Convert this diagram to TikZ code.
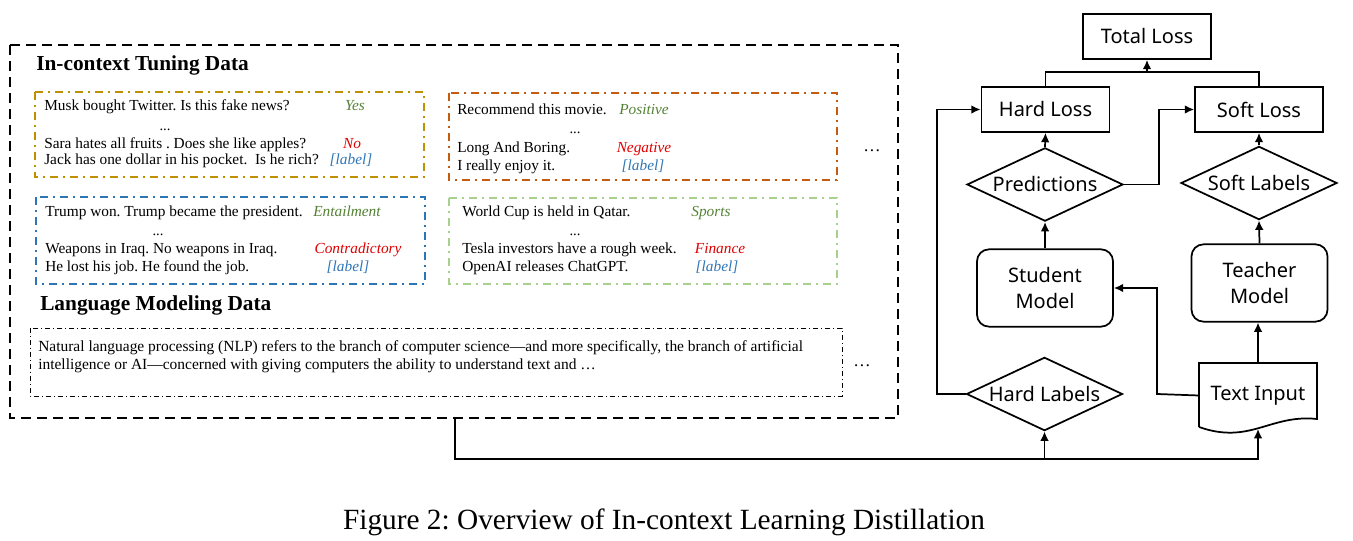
\documentclass[tikz,border=0pt]{standalone}
\usepackage{fontspec}
\setmainfont{Liberation Serif}
\newfontfamily\flowfont{Noto Sans}
\usetikzlibrary{shapes.geometric,arrows.meta}
\definecolor{cyel}{HTML}{BF9000}
\definecolor{cora}{HTML}{C55A11}
\definecolor{cblu}{HTML}{2E75B6}
\definecolor{cgrn}{HTML}{A9D18E}
\definecolor{lgrn}{HTML}{548235}
\definecolor{lred}{HTML}{E00000}
\definecolor{lblu}{HTML}{2E75B6}
\frenchspacing
\begin{document}
\begin{tikzpicture}[x=0.75pt,y=-0.75pt,
  txt/.style={anchor=base west, inner sep=0pt, font=\fontsize{11.5}{14}\selectfont},
  dotsn/.style={anchor=base, inner sep=0pt, font=\fontsize{11}{13}\selectfont},
  lab/.style={anchor=base, inner sep=0pt, font=\fontsize{11.5}{14}\selectfont\itshape},
  head/.style={anchor=base west, inner sep=0pt, font=\fontsize{16}{19}\selectfont\bfseries},
  ddash/.style={line width=1.5pt, dash pattern=on 6pt off 3.5pt on 2pt off 3.5pt},
  outerdash/.style={line width=1.2pt, dash pattern=on 7.5pt off 4.5pt},
  lmdash/.style={line width=0.7pt, dash pattern=on 4pt off 2pt on 1pt off 2pt},
  ffont/.style={font=\flowfont\fontsize{15}{19.5}\selectfont},
  lossbox/.style={draw, line width=1.3pt, ffont, inner sep=0pt, minimum width=96pt, minimum height=33.75pt},
  dia/.style={draw, diamond, aspect=2.1, line width=1.3pt, ffont, inner sep=0pt, minimum width=117pt, minimum height=55pt},
  model/.style={draw, rounded corners=9pt, line width=1.3pt, ffont, align=center, inner sep=0pt, minimum width=102pt, minimum height=58pt},
  conn/.style={line width=1.3pt},
  arr/.style={line width=1.3pt, -{Latex[length=7pt,width=6.5pt]}}
]
\useasboundingbox (0,0) rectangle (1353,541);

% outer dashed frame
\draw[outerdash] (10,45) rectangle (898,418);
\node[head] (h1) at (36,71) {In-context Tuning Data};
\node[head] (h2) at (40,311) {Language Modeling Data};

% yellow box
\draw[ddash, cyel] (35,92) rectangle (424,177);
\node[txt] (y1) at (44,111) {Musk bought Twitter. Is this fake news?};
\node[dotsn] (y2) at (165,131) {...};
\node[txt] (y3) at (44,149) {Sara hates all fruits . Does she like apples?};
\node[txt] (y4) at (44,165) {Jack has one dollar in his pocket.\ \ Is he rich?};
\node[lab, lgrn] (yl1) at (355,111) {Yes};
\node[lab, lred] (yl2) at (352,149) {No};
\node[lab, lblu] (yl3) at (351,165) {[label]};

% orange box
\draw[ddash, cora] (449,93) rectangle (837,180);
\node[txt] (o1) at (457,115) {Recommend this movie.};
\node[dotsn] (o2) at (575,134) {...};
\node[txt] (o3) at (457,153) {Long And Boring.};
\node[txt] (o4) at (457,171) {I really enjoy it.};
\node[lab, lgrn] (ol1) at (644,115) {Positive};
\node[lab, lred] (ol2) at (644,153) {Negative};
\node[lab, lblu] (ol3) at (643,171) {[label]};

% blue box
\draw[ddash, cblu] (36,197) rectangle (425,284);
\node[txt] (b1t) at (45,217) {Trump won. Trump became the president.};
\node[dotsn] (b2t) at (158,236) {...};
\node[txt] (b3t) at (45,254) {Weapons in Iraq. No weapons in Iraq.};
\node[txt] (b4t) at (45,272) {He lost his job. He found the job.};
\node[lab, lgrn] (bl1) at (347,217) {Entailment};
\node[lab, lred] (bl2) at (358,254) {Contradictory};
\node[lab, lblu] (bl3) at (348,272) {[label]};

% green box
\draw[ddash, cgrn] (449,198) rectangle (837,284);
\node[txt] (g1) at (462,217) {World Cup is held in Qatar.};
\node[dotsn] (g2) at (575,236) {...};
\node[txt] (g3) at (462,254) {Tesla investors have a rough week.};
\node[txt] (g4) at (462,272) {OpenAI releases ChatGPT.};
\node[lab, lgrn] (gl1) at (711,217) {Sports};
\node[lab, lred] (gl2) at (720,254) {Finance};
\node[lab, lblu] (gl3) at (717,272) {[label]};

\node[dotsn, font=\fontsize{13}{15}\selectfont] (e1) at (872,152) {\ldots};

% language modeling box
\draw[lmdash] (30,328) rectangle (842,396);
\node[txt, font=\fontsize{11.6}{14}\selectfont] (lm1) at (38,352) {Natural language processing (NLP) refers to the branch of computer science---and more specifically, the branch of artificial};
\node[txt, font=\fontsize{11.6}{14}\selectfont] (lm2) at (38,370) {intelligence or AI---concerned with giving computers the ability to understand text and \ldots};
\node[dotsn, font=\fontsize{13}{15}\selectfont] (e2) at (862,367) {\ldots};

% flowchart
\node[lossbox] (tl) at (1147,36.5) {Total Loss};
\node[lossbox] (hl) at (1045.5,109.5) {Hard Loss};
\node[lossbox] (sl) at (1259,109.5) {Soft Loss};
\node[dia] (pred) at (1045,184.5) {Predictions};
\node[dia] (slab) at (1259,183) {Soft Labels};
\node[dia] (hlab) at (1044.5,394) {Hard Labels};
\node[model] (stud) at (1045,288) {Student\\Model};
\node[model] (teach) at (1259.5,283) {Teacher\\Model};
\node[ffont, inner sep=0pt, minimum width=88.5pt, minimum height=48.75pt] (tin) at (1258,395.5) {Text Input};
\draw[conn] (1199,427) -- (1199,363) -- (1317,363) -- (1317,419) .. controls (1270,414) and (1250,445) .. (1199,427);

\coordinate (jt) at (1147,72);
\draw[conn] (hl.north) |- (jt) -| (sl.north);
\draw[arr] (jt) -- (tl.south);
\draw[arr] (pred.north) -- (hl.south);
\draw[arr] (slab.north) -- (sl.south);
\coordinate (pk) at (1159,184.5);
\draw[arr] (pred.east) -- (pk) |- (sl.west);
\coordinate (lk) at (937,394);
\draw[arr] (hlab.west) -- (lk) |- (hl.west);
\draw[arr] (stud.north) -- (pred.south);
\draw[arr] (teach.north) -- (slab.south);
\draw[arr] (tin.north) -- (tin.north |- teach.south);
\coordinate (tk) at (1157,394);
\draw[arr] (tin.west) -- (tk) |- (stud.east);
\coordinate (ob) at (455,418);
\coordinate (bl) at (455,459);
\coordinate (bm) at (1044.5,459);
\coordinate (tinb) at (1258,429);
\draw[arr] (ob) -- (bl) -| (tinb);
\draw[arr] (bm) -- (hlab.south);

% caption
\node[anchor=base, inner sep=0pt, font=\fontsize{22}{26}\selectfont] (cap) at (664,529) {Figure 2: Overview of In-context Learning Distillation};
\end{tikzpicture}
\end{document}
